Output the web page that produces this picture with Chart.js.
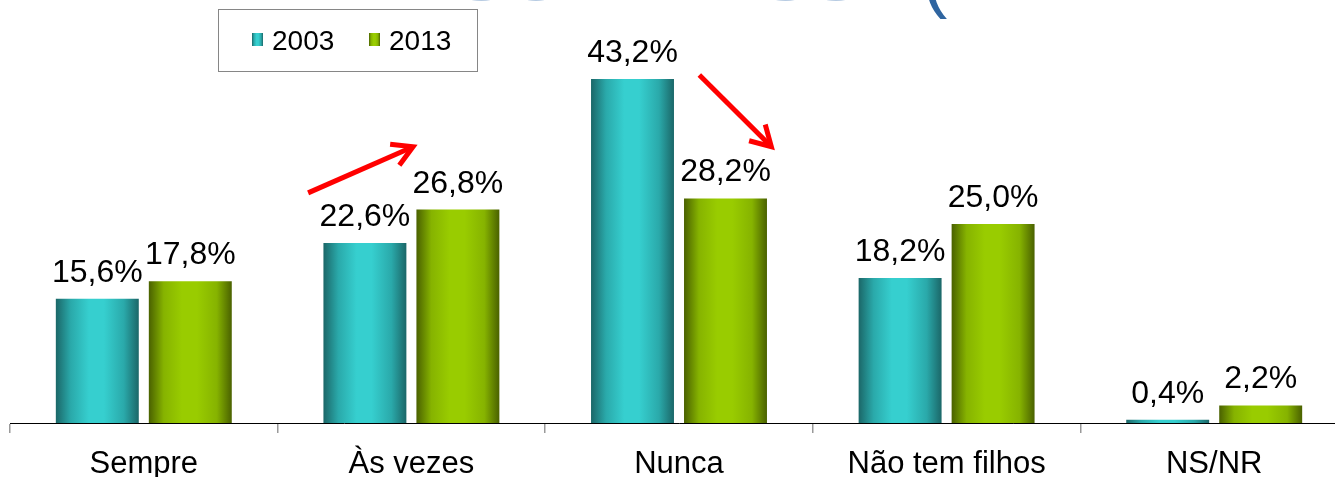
<!DOCTYPE html>
<html>
<head>
<meta charset="utf-8">
<script src="https://cdn.jsdelivr.net/npm/chart.js@4.4.1/dist/chart.umd.min.js"></script>
<style>
  html, body { margin: 0; padding: 0; background: #ffffff; overflow: hidden; width: 1335px; height: 477px; }
  #wrap { position: absolute; left: 0; top: 0; width: 1348px; height: 477px; }
</style>
</head>
<body>
<div id="wrap"><canvas id="c" width="1348" height="477"></canvas></div>
<script>
const categories = ['Sempre', 'Às vezes', 'Nunca', 'Não tem filhos', 'NS/NR'];
const seriesNames = ['2003', '2013'];
const values2003 = [15.6, 22.6, 43.2, 18.2, 0.4];
const values2013 = [17.8, 26.8, 28.2, 25.0, 2.2];
const yMin = 0;
const yMax = 53;

const FONT = "'Liberation Sans', Arial, sans-serif";
const CAT_PCT = 0.695;
const BAR_PCT = 0.892;
const palettes = [
  { dark: '#1b6768', mid: '#2aa9aa', bright: '#36cfcf' },
  { dark: '#4a6100', mid: '#86b300', bright: '#99cc00' }
];

function makeGradient(ctx2d, x0, x1, pal) {
  const g = ctx2d.createLinearGradient(x0, 0, x1, 0);
  g.addColorStop(0, pal.dark);
  g.addColorStop(0.18, pal.mid);
  g.addColorStop(0.4, pal.bright);
  g.addColorStop(0.58, pal.bright);
  g.addColorStop(0.82, pal.mid);
  g.addColorStop(1, pal.dark);
  return g;
}

function barFill(ctx) {
  const chart = ctx.chart;
  const pal = palettes[ctx.datasetIndex];
  const xs = chart.scales && chart.scales.x;
  if (!xs || !chart.chartArea || ctx.dataIndex === undefined) return pal.bright;
  const center = xs.getPixelForValue(ctx.dataIndex);
  const catW = xs.width / categories.length;
  const slot = catW * CAT_PCT / 2;
  const bc = center + (ctx.datasetIndex - 0.5) * slot;
  const bw = slot * BAR_PCT;
  return makeGradient(chart.ctx, bc - bw / 2, bc + bw / 2, pal);
}

function fmt(v) { return v.toFixed(1).replace('.', ',') + '%'; }

const labelPlugin = {
  id: 'valueLabels',
  afterDatasetsDraw(chart) {
    const c = chart.ctx;
    c.save();
    c.font = '32px ' + FONT;
    c.fillStyle = '#000';
    c.textAlign = 'center';
    c.textBaseline = 'alphabetic';
    chart.data.datasets.forEach((ds, di) => {
      const meta = chart.getDatasetMeta(di);
      meta.data.forEach((el, i) => {
        c.fillText(fmt(ds.data[i]), el.x, el.y - 17);
      });
    });
    c.restore();
  }
};

// Arrows anchored in data coordinates: [categoryPos, value]
const arrows = [
  { from: [0.614, 28.9], to: [1.006, 34.7] },
  { from: [2.076, 43.7], to: [2.345, 34.7] }
];

const decorPlugin = {
  id: 'decor',
  afterDraw(chart) {
    const c = chart.ctx;
    const xs = chart.scales.x, ys = chart.scales.y;
    const catW = xs.width / categories.length;
    const px = (p) => xs.getPixelForValue(0) + p * catW;
    // arrows
    c.save();
    c.strokeStyle = '#ff0000';
    c.lineWidth = 5;
    c.lineCap = 'butt';
    c.lineJoin = 'miter';
    arrows.forEach(a => {
      const x0 = px(a.from[0]), y0 = ys.getPixelForValue(a.from[1]);
      const x1 = px(a.to[0]), y1 = ys.getPixelForValue(a.to[1]);
      const ang = Math.atan2(y1 - y0, x1 - x0);
      c.beginPath();
      c.moveTo(x0, y0);
      c.lineTo(x1 - 3 * Math.cos(ang), y1 - 3 * Math.sin(ang));
      c.stroke();
      const hl = 23, ha = 0.52;
      c.beginPath();
      c.moveTo(x1 - hl * Math.cos(ang - ha), y1 - hl * Math.sin(ang - ha));
      c.lineTo(x1, y1);
      c.lineTo(x1 - hl * Math.cos(ang + ha), y1 - hl * Math.sin(ang + ha));
      c.stroke();
    });
    c.restore();

    // legend
    c.save();
    c.strokeStyle = '#868686';
    c.lineWidth = 1;
    c.strokeRect(218.5, 9.5, 259, 62);
    c.font = '28px ' + FONT;
    c.fillStyle = '#000';
    c.textAlign = 'left';
    c.textBaseline = 'alphabetic';
    const items = [{ sx: 252, tx: 272 }, { sx: 369, tx: 389 }];
    seriesNames.forEach((name, i) => {
      const it = items[i];
      c.fillStyle = makeGradient(c, it.sx, it.sx + 11, palettes[i]);
      c.fillRect(it.sx, 33, 11, 13);
      c.fillStyle = '#000';
      c.fillText(name, it.tx, 50);
    });
    c.restore();

    // cut-off title fragment at the very top
    c.save();
    c.beginPath();
    c.rect(0, 0, chart.width, 24);
    c.clip();
    c.font = '76px ' + FONT;
    c.textBaseline = 'alphabetic';
    c.textAlign = 'right';
    c.fillStyle = '#b7cbe2';
    c.fillText('SOB E ESSE', 912, 0);
    c.textAlign = 'left';
    c.fillStyle = '#2f65a0';
    c.fillText('(', 922, 3);
    c.fillStyle = '#b7cbe2';
    c.fillText('BRAZIL', 960, 0);
    c.restore();
  }
};

new Chart(document.getElementById('c'), {
  type: 'bar',
  data: {
    labels: categories,
    datasets: [
      { label: seriesNames[0], data: values2003, backgroundColor: barFill, borderWidth: 0,
        categoryPercentage: CAT_PCT, barPercentage: BAR_PCT },
      { label: seriesNames[1], data: values2013, backgroundColor: barFill, borderWidth: 0,
        categoryPercentage: CAT_PCT, barPercentage: BAR_PCT }
    ]
  },
  options: {
    responsive: false,
    animation: false,
    events: [],
    layout: { padding: { left: 10, right: 0, top: 1, bottom: 0 } },
    plugins: { legend: { display: false }, tooltip: { enabled: false }, title: { display: false } },
    scales: {
      x: {
        offset: true,
        grid: { offset: true, drawOnChartArea: false, drawTicks: true, tickLength: 10, color: '#9a9a9a', lineWidth: 1.5 },
        border: { display: true, color: '#000000', width: 1 },
        ticks: { color: '#000', font: { family: FONT, size: 31 }, padding: 13, maxRotation: 0, autoSkip: false },
        afterFit(scale) { scale.height = 54; }
      },
      y: {
        display: false,
        min: yMin,
        max: yMax
      }
    }
  },
  plugins: [labelPlugin, decorPlugin]
});
</script>
</body>
</html>
